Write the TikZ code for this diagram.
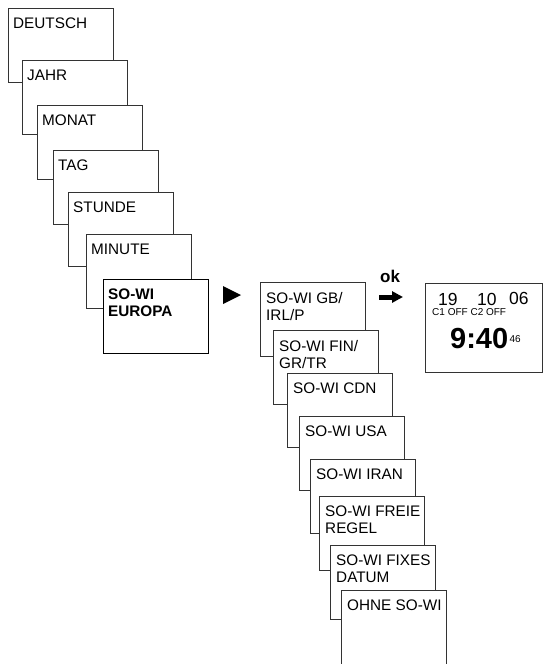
\documentclass[tikz,border=0pt]{standalone}
\usepackage{fontspec}
\setmainfont{Liberation Sans}
\usetikzlibrary{arrows.meta}

\tikzset{
  screen/.style={draw=black!80, line width=0.8pt, fill=white, anchor=north west,
    minimum width=105pt, minimum height=74pt, inner sep=0pt},
  screentext/.style={anchor=north west, inner sep=0pt, align=left,
    font=\fontsize{15.3}{17}\selectfont},
  lcd/.style={anchor=base west, inner sep=0pt}
}

\begin{document}
\begin{tikzpicture}[x=1pt,y=-1pt]

\useasboundingbox (0,0) rectangle (543,664);

% setup menu
\foreach \n/\x/\y/\t in {deutsch/8/8/DEUTSCH, jahr/22/60/JAHR, monat/37/105/MONAT,
    tag/53/150/TAG, stunde/68/192/STUNDE, minute/86/234/MINUTE}{
  \node[screen] (\n) at (\x,\y) {};
  \node[screentext] at ([xshift=5pt,yshift=-10pt]\n.north west) {\t};
}

\node[screen, draw=black, line width=1pt] (europa) at (103,279) {};
\node[screentext, font=\fontsize{15.3}{17}\selectfont\bfseries] at ([xshift=5pt,yshift=-10pt]europa.north west) {SO-WI\\EUROPA};

\fill (223,286) -- (241,295) -- (223,304) -- cycle;

% dst choices
\foreach \n/\x/\y/\t in {gb/260/282/{SO-WI GB/\\IRL/P}, fin/273/330/{SO-WI FIN/\\GR/TR},
    cdn/287/373/{SO-WI CDN}, usa/299/416/{SO-WI USA}, iran/310/459/{SO-WI IRAN},
    freie/319/496/{SO-WI FREIE\\REGEL}, fixes/330/545/{SO-WI FIXES\\DATUM},
    ohne/341/590/{OHNE SO-WI}}{
  \node[screen] (\n) at (\x,\y) {};
  \node[screentext] at ([xshift=6pt,yshift=-10pt]\n.north west) {\t};
}

% confirm
\node[lcd, font=\fontsize{17}{17}\selectfont\bfseries] (ok) at (380,282) {ok};
\coordinate (okA) at (379,297);
\coordinate (okB) at (403,297);
\draw[line width=5pt, -{Triangle[length=11pt,width=11pt]}] (okA) -- (okB);

% display
\node[screen, line width=1pt, minimum width=117pt, minimum height=89pt] (display) at (425,283) {};
\node[lcd, font=\fontsize{17.5}{17}\selectfont] (day) at (438,305) {19};
\node[lcd, font=\fontsize{17.5}{17}\selectfont] (month) at (477,305) {10};
\node[lcd, font=\fontsize{17.5}{17}\selectfont] (year) at (509,304) {06};
\node[lcd, font=\fontsize{10}{10}\selectfont] (chan) at (432,315) {C1 OFF C2 OFF};
\node[lcd, font=\fontsize{29}{29}\selectfont\bfseries] (time) at (450,348) {9:40};
\node[lcd, font=\fontsize{10}{10}\selectfont] (sec) at ([xshift=1pt,yshift=6pt]time.base east) {46};

\end{tikzpicture}
\end{document}
